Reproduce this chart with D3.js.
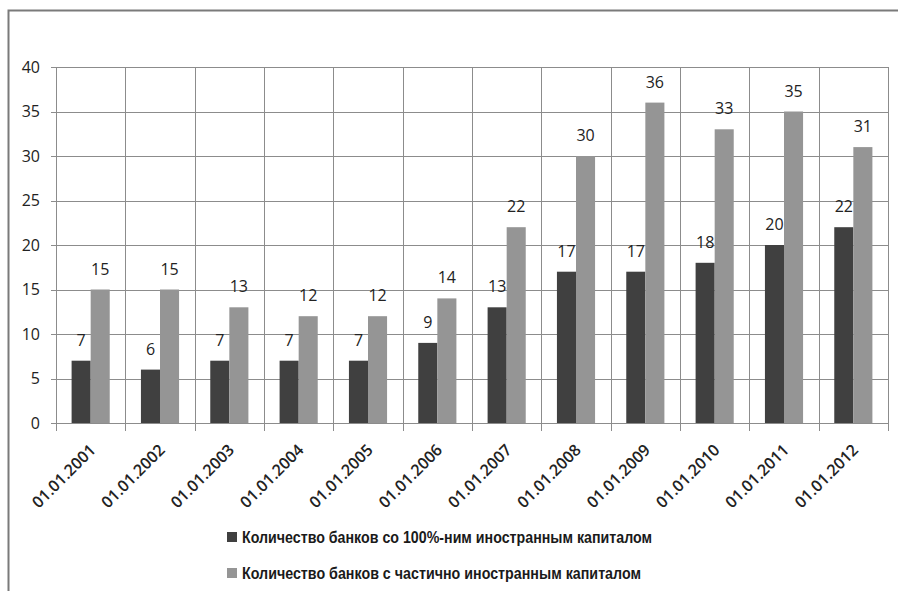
<!DOCTYPE html>
<html>
<head>
<meta charset="utf-8">
<script src="https://cdn.jsdelivr.net/npm/d3@7"></script>
<style>
  body { margin: 0; background: #fff; }
  svg { display: block; }
</style>
</head>
<body>
<div id="chart"></div>
<script>
var categories = ["01.01.2001", "01.01.2002", "01.01.2003", "01.01.2004", "01.01.2005", "01.01.2006",
                  "01.01.2007", "01.01.2008", "01.01.2009", "01.01.2010", "01.01.2011", "01.01.2012"];
var fullForeign = [7, 6, 7, 7, 7, 9, 13, 17, 17, 18, 20, 22];
var partForeign = [15, 15, 13, 12, 12, 14, 22, 30, 36, 33, 35, 31];
var seriesNames = ["Количество банков со 100%-ним иностранным капиталом",
                   "Количество банков с частично иностранным капиталом"];
var seriesColors = ["#404040", "#959595"];
var yTicks = [0, 5, 10, 15, 20, 25, 30, 35, 40];

var width = 898, height = 591;
var margin = {top: 67, right: 10, bottom: 168, left: 56};
var plotW = 888 - margin.left, plotH = 423 - margin.top;

var svg = d3.select("#chart").append("svg")
    .attr("width", width)
    .attr("height", height);

// outer frame (only top and left visible)
svg.append("path")
    .attr("d", "M8.5," + height + "V10.5H" + width)
    .attr("fill", "none")
    .attr("stroke", "#7a7a7a")
    .attr("stroke-width", 2);

var g = svg.append("g")
    .attr("transform", "translate(" + margin.left + "," + margin.top + ")");

var x = d3.scaleBand()
    .domain(categories)
    .range([0, plotW]);

var x1 = d3.scaleBand()
    .domain([0, 1])
    .range([x.bandwidth() * 0.225, x.bandwidth() * 0.775]);

var y = d3.scaleLinear()
    .domain([0, 40])
    .range([plotH, 0]);

// horizontal grid + y ticks
g.append("g")
    .selectAll("line")
    .data(yTicks)
    .enter().append("line")
    .attr("x1", -5)
    .attr("x2", plotW)
    .attr("y1", function(d) { return Math.round(y(d)) + 0.5; })
    .attr("y2", function(d) { return Math.round(y(d)) + 0.5; })
    .attr("stroke", "#8c8c8c");

// vertical category lines
var bounds = categories.map(function(c) { return x(c); }).concat([plotW]);
g.append("g")
    .selectAll("line")
    .data(bounds)
    .enter().append("line")
    .attr("x1", function(d) { return Math.round(d) + 0.5; })
    .attr("x2", function(d) { return Math.round(d) + 0.5; })
    .attr("y1", 0)
    .attr("y2", plotH + 8)
    .attr("stroke", "#8c8c8c");

// y labels
g.append("g")
    .selectAll("text")
    .data(yTicks)
    .enter().append("text")
    .attr("x", -16)
    .attr("y", function(d) { return y(d); })
    .attr("dy", "0.35em")
    .attr("text-anchor", "end")
    .attr("font-family", "'Open Sans', sans-serif")
    .attr("font-size", 16)
    .attr("fill", "#222")
    .text(function(d) { return d; });

// bars
var series = [fullForeign, partForeign];
series.forEach(function(vals, si) {
  var sg = g.append("g");
  sg.selectAll("rect")
      .data(vals)
      .enter().append("rect")
      .attr("x", function(d, i) { return x(categories[i]) + x1(si); })
      .attr("y", function(d) { return y(d); })
      .attr("width", x1.bandwidth())
      .attr("height", function(d) { return plotH - y(d); })
      .attr("fill", seriesColors[si]);

  sg.selectAll("text")
      .data(vals)
      .enter().append("text")
      .attr("x", function(d, i) { return x(categories[i]) + x1(si) + x1.bandwidth() / 2; })
      .attr("y", function(d) { return y(d) - 15; })
      .attr("text-anchor", "middle")
      .attr("font-family", "'Open Sans', sans-serif")
      .attr("font-size", 16)
      .attr("fill", "#222")
      .text(function(d) { return d; });
});

// x labels
g.append("g")
    .selectAll("text")
    .data(categories)
    .enter().append("text")
    .attr("transform", function(d) {
      return "translate(" + (x(d) + x.bandwidth() / 2 + 6) + "," + (plotH + 28) + ") rotate(-45)";
    })
    .attr("text-anchor", "end")
    .attr("font-family", "'Open Sans', sans-serif")
    .attr("font-size", 16)
    .attr("font-weight", 600)
    .attr("fill", "#222")
    .text(function(d) { return d; });

// legend
var legend = svg.append("g")
    .attr("transform", "translate(227,532)");

var lg = legend.selectAll("g")
    .data(seriesNames)
    .enter().append("g")
    .attr("transform", function(d, i) { return "translate(0," + (i * 36) + ")"; });

lg.append("rect")
    .attr("width", 10)
    .attr("height", 10)
    .attr("fill", function(d, i) { return seriesColors[i]; });

lg.append("text")
    .attr("x", 15)
    .attr("y", 10.5)
    .attr("font-family", "'Liberation Sans Narrow', 'Arial Narrow', 'Liberation Sans', sans-serif")
    .attr("font-size", 16.5)
    .attr("font-weight", "bold")
    .attr("fill", "#1a1a1a")
    .attr("textLength", function(d, i) { return i === 0 ? 410 : 399; })
    .attr("lengthAdjust", "spacingAndGlyphs")
    .text(function(d) { return d; });
</script>
</body>
</html>
